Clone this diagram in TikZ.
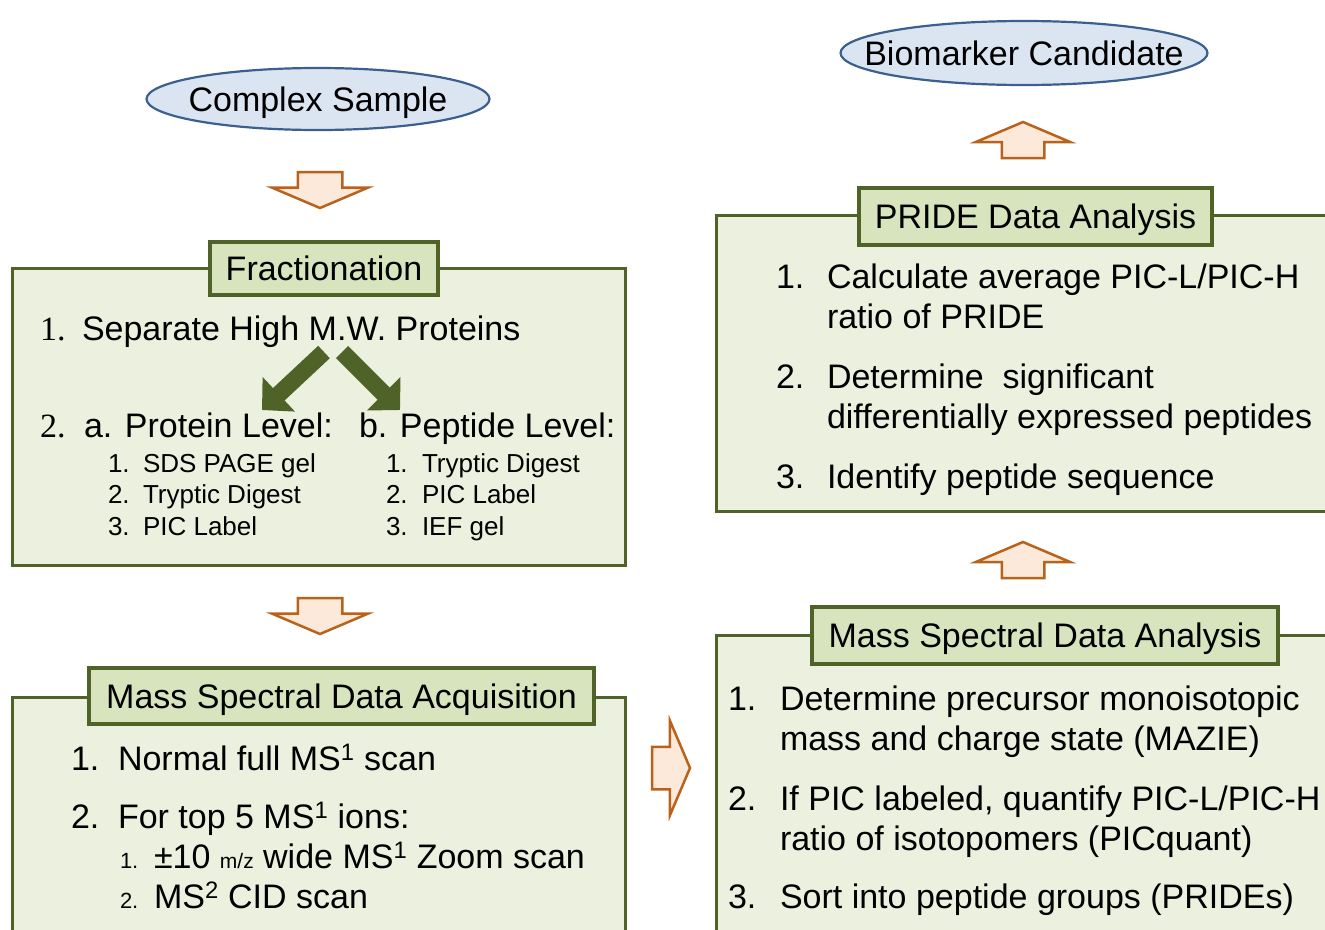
\documentclass[tikz,border=0pt]{standalone}
\usepackage{fontspec}
\setmainfont{Liberation Sans}
\newfontfamily\numfont{Liberation Serif}
\usetikzlibrary{shapes.geometric,shapes.arrows,arrows.meta}

\definecolor{panelfill}{HTML}{EBF1DE}
\definecolor{panelline}{HTML}{4F6228}
\definecolor{headfill}{HTML}{D7E4BD}
\definecolor{ovalfill}{HTML}{DBE5F1}
\definecolor{ovalline}{HTML}{3B5F8E}
\definecolor{arrowfill}{HTML}{FDE9D9}
\definecolor{arrowline}{HTML}{B8621C}

\begin{document}
\begin{tikzpicture}[x=1pt, y=-1pt,
  every node/.style={inner sep=0pt, outer sep=0pt},
  big/.style={font=\fontsize{34}{40}\selectfont},
  item/.style={big, anchor=base west},
  subitem/.style={font=\fontsize{26}{30}\selectfont, anchor=base west},
  oval/.style={ellipse, draw=ovalline, fill=ovalfill, line width=2.2pt, big,
    text height=24pt, text depth=0pt, inner xsep=-80pt, inner ysep=-10pt},
  panel/.style={draw=panelline, fill=panelfill, line width=3pt, anchor=north west},
  heading/.style={draw=panelline, fill=headfill, line width=3.5pt, big,
    text height=24pt, text depth=0pt},
  blockarrow/.style={single arrow, draw=arrowline, fill=arrowfill, line width=2.5pt,
    minimum height=36pt, inner xsep=0pt, inner ysep=21pt, single arrow head extend=26pt,
    single arrow tip angle=134, anchor=tail},
  splitarrow/.style={draw=panelline, line width=17pt, -{Triangle[width=46pt, length=23pt]}}]

  \useasboundingbox (0,0) rectangle (1325,929);
  \clip (0,0) rectangle (1325,929);

  % left column
  \node[oval, minimum width=343pt, minimum height=62pt] (cs) at (318,99) {Complex Sample};
  \node[blockarrow, rotate=-90] (a1) at (320,172) {};

  \node[panel, minimum width=613pt, minimum height=297pt] (frac) at (12,268) {};
  \node[heading, minimum width=228pt, minimum height=53pt] (fract) at (324,268.5) {Fractionation};
  \node[item, font=\numfont\fontsize{34}{40}\selectfont] (f1) at (40,340) {1.};
  \node[item] (f1t) at (82,340) {Separate High M.W. Proteins};
  \node[item, font=\numfont\fontsize{34}{40}\selectfont] (f2) at (40,437) {2.};
  \node[item] (prot) at (84,437) {a. Protein Level:};
  \node[item] (pept) at (359,437) {b. Peptide Level:};
  \foreach \n/\t/\y in {1/SDS PAGE gel/472, 2/Tryptic Digest/503, 3/PIC Label/535} {
    \node[subitem] (pa\n) at (108,\y) {\n.};
    \node[subitem] (pat\n) at (143,\y) {\t};
  }
  \foreach \n/\t/\y in {1/Tryptic Digest/472, 2/PIC Label/503, 3/IEF gel/535} {
    \node[subitem] (pb\n) at (386,\y) {\n.};
    \node[subitem] (pbt\n) at (422,\y) {\t};
  }
  \coordinate (sl) at (324,352);
  \coordinate (sr) at (342,352);
  \coordinate (el) at (262,410);
  \coordinate (er) at (400,410);
  \draw[splitarrow] (sl) -- (el);
  \draw[splitarrow] (sr) -- (er);

  \node[blockarrow, rotate=-90] (a2) at (320,598) {};

  \node[panel, minimum width=613pt, minimum height=260pt] (acq) at (12,697) {};
  \node[heading, minimum width=505pt, minimum height=56pt] (acqt) at (341.5,696) {Mass Spectral Data Acquisition};
  \node[item] (q1) at (71,770) {1.};
  \node[item] (q1t) at (118,770) {Normal full MS\textsuperscript{1} scan};
  \node[item] (q2) at (71,828) {2.};
  \node[item] (q2t) at (118,828) {For top 5 MS\textsuperscript{1} ions:};
  \node[subitem, font=\fontsize{22}{26}\selectfont] (q21) at (120,868) {1.};
  \node[item] (q21t) at (154,868) {±10 {\fontsize{21}{24}\selectfont m/z} wide MS\textsuperscript{1} Zoom scan};
  \node[subitem, font=\fontsize{22}{26}\selectfont] (q22) at (120,908) {2.};
  \node[item] (q22t) at (154,908) {MS\textsuperscript{2} CID scan};

  \node[blockarrow, minimum height=38pt, inner ysep=20pt] (a3) at (652,768) {};

  % right column
  \node[oval, minimum width=367pt, minimum height=64pt] (bc) at (1024,53) {Biomarker Candidate};
  \node[blockarrow, rotate=90, inner ysep=20pt] (a4) at (1023,158) {};

  \node[panel, minimum width=640pt, minimum height=296pt] (pride) at (716,215) {};
  \node[heading, minimum width=353pt, minimum height=57pt] (pridet) at (1035.5,216.5) {PRIDE Data Analysis};
  \node[item] (r1) at (776,288) {1.};
  \node[item] (r1t) at (827,288) {Calculate average PIC-L/PIC-H};
  \node[item] (r1u) at (827,328) {ratio of PRIDE};
  \node[item] (r2) at (776,388) {2.};
  \node[item] (r2t) at (827,388) {Determine\ \ significant};
  \node[item] (r2u) at (827,428) {differentially expressed peptides};
  \node[item] (r3) at (776,488) {3.};
  \node[item] (r3t) at (827,488) {Identify peptide sequence};

  \node[blockarrow, rotate=90, inner ysep=20pt] (a5) at (1023,578) {};

  \node[panel, minimum width=640pt, minimum height=320pt] (msda) at (716,635) {};
  \node[heading, minimum width=466pt, minimum height=57pt] (msdat) at (1045,635.5) {Mass Spectral Data Analysis};
  \node[item] (m1) at (728,710) {1.};
  \node[item] (m1t) at (780,710) {Determine precursor monoisotopic};
  \node[item] (m1u) at (780,750) {mass and charge state (MAZIE)};
  \node[item] (m2) at (728,810) {2.};
  \node[item] (m2t) at (780,810) {If PIC labeled, quantify PIC-L/PIC-H};
  \node[item] (m2u) at (780,850) {ratio of isotopomers (PICquant)};
  \node[item] (m3) at (728,908) {3.};
  \node[item] (m3t) at (780,908) {Sort into peptide groups (PRIDEs)};
\end{tikzpicture}
\end{document}
